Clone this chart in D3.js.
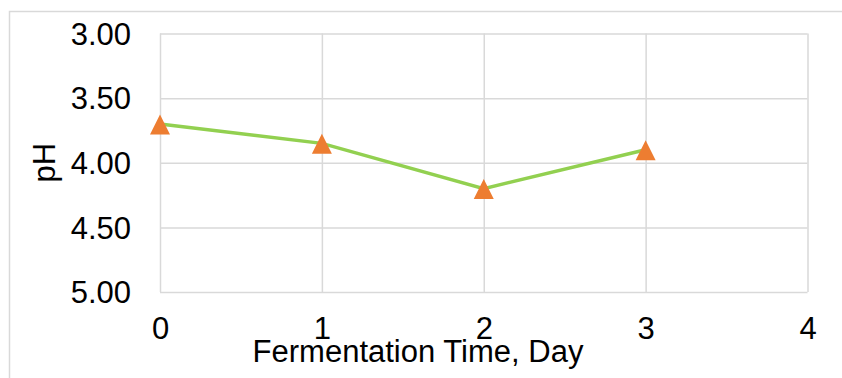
<!DOCTYPE html>
<html><head><meta charset="utf-8">
<script src="https://cdn.jsdelivr.net/npm/d3@7"></script>
<style>html,body{margin:0;padding:0;background:#fff;}svg{display:block;font-family:"Liberation Sans",Arial,sans-serif;}</style>
</head><body>
<svg id="c" width="842" height="378"></svg>
<script>
const days = [0, 1, 2, 3];
const phValues = [3.70, 3.85, 4.20, 3.90];
const xTicks = [0, 1, 2, 3, 4];
const yTicks = [3.00, 3.50, 4.00, 4.50, 5.00];
const xTitle = "Fermentation Time, Day";
const yTitle = "pH";

const svg = d3.select("#c");
const m = {left: 160, top: 33.5, right: 807.5, bottom: 292};
const x = d3.scaleLinear().domain([0, 4]).range([m.left, m.right]);
const y = d3.scaleLinear().domain([3, 5]).range([m.top, m.bottom]);
const grid = "#d9d9d9";
const fs = 31;

// outer chart border (partially visible)
svg.append("path").attr("d", `M9.5,378 V11.5 H842`).attr("fill", "none").attr("stroke", grid).attr("stroke-width", 1.5);

// gridlines via axes
const gx = svg.append("g").attr("transform", `translate(0,${m.bottom})`)
  .call(d3.axisBottom(x).tickValues(xTicks).tickSize(-(m.bottom - m.top)).tickFormat(d3.format("d")).tickPadding(0));
gx.select(".domain").remove();
gx.selectAll("line").attr("stroke", grid).attr("stroke-width", 1.5);
gx.selectAll("text").attr("font-size", fs).attr("fill", "#000").attr("dy", null).attr("y", 47);

const gy = svg.append("g").attr("transform", `translate(${m.left},0)`)
  .call(d3.axisLeft(y).tickValues(yTicks).tickSize(-(m.right - m.left)).tickFormat(d3.format(".2f")).tickPadding(0));
gy.select(".domain").remove();
gy.selectAll("line").attr("stroke", grid).attr("stroke-width", 1.5);
gy.selectAll("text").attr("font-size", fs).attr("fill", "#000").attr("x", -29).attr("dy", "0.35em");

// axis titles
svg.append("text").attr("x", 418).attr("y", 362).attr("text-anchor", "middle")
  .attr("font-size", fs).attr("fill", "#000").text(xTitle);
svg.append("text").attr("transform", `translate(55,${(m.top + m.bottom) / 2}) rotate(-90)`).attr("text-anchor", "middle")
  .attr("font-size", fs).attr("fill", "#000").text(yTitle);

// line
const line = d3.line().x((d, i) => x(days[i])).y(d => y(d));
svg.append("path").datum(phValues).attr("d", line).attr("fill", "none").attr("stroke", "#92D050").attr("stroke-width", 3.5);

// markers (triangles)
svg.selectAll(".mk").data(phValues).join("path").attr("class", "mk")
  .attr("transform", (d, i) => `translate(${x(days[i])},${y(d)})`)
  .attr("d", "M0,-9.5 L10,10.5 L-10,10.5 Z").attr("fill", "#ED7D31");
</script>
</body></html>
